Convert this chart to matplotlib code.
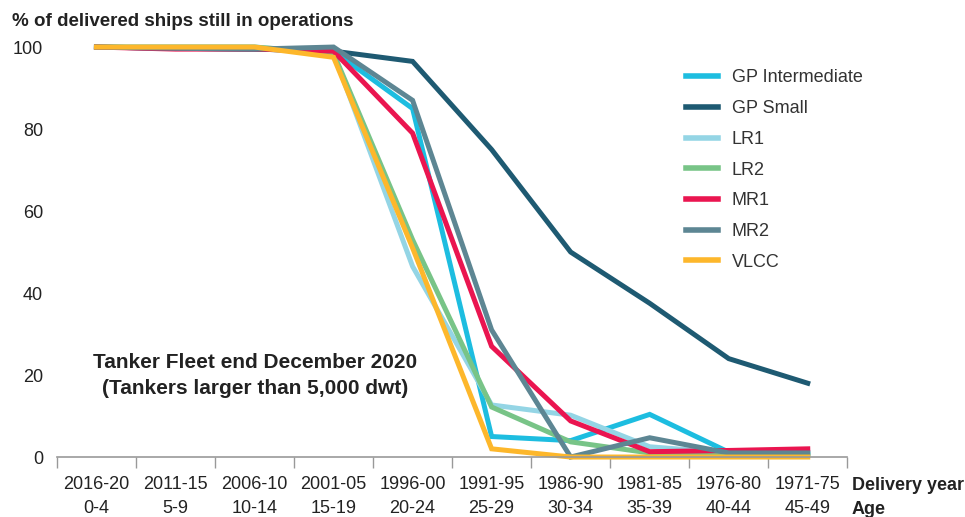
import matplotlib
matplotlib.use("Agg")
from matplotlib import pyplot as plt
import numpy as np

plt.rcParams['font.family'] = ['Liberation Sans', 'DejaVu Sans']

# periodos de entrega y edades
years = ['2016-20', '2011-15', '2006-10', '2001-05', '1996-00',
         '1991-95', '1986-90', '1981-85', '1976-80', '1971-75']
ages = ['0-4', '5-9', '10-14', '15-19', '20-24',
        '25-29', '30-34', '35-39', '40-44', '45-49']

# % de buques entregados aun en operacion
gp_intermediate = [100, 99.7, 99.5, 99, 85, 5, 4, 10.4, 1.2, 0.8]
gp_small = [100, 99.7, 99.5, 99, 96.5, 75, 50, 37.5, 24, 18]
lr1 = [100, 100, 100, 98.5, 46.5, 12.7, 10.2, 2.5, 1, 1]
lr2 = [100, 100, 100, 98.5, 53, 12.2, 3.7, 1, 0.5, 0.5]
mr1 = [100, 99.5, 99.5, 99, 79, 27, 8.8, 1.3, 1.6, 2]
mr2 = [100, 99.7, 99.5, 100, 87, 31, 0, 4.7, 1, 1]
vlcc = [100, 100, 100, 97.5, 51, 2, 0, 0, 0, 0]

series = [
    ('GP Intermediate', gp_intermediate, '#1dbde0'),
    ('GP Small', gp_small, '#1e5a72'),
    ('LR1', lr1, '#94d5e5'),
    ('LR2', lr2, '#78c487'),
    ('MR1', mr1, '#ea1550'),
    ('MR2', mr2, '#5d8693'),
    ('VLCC', vlcc, '#fdb72b'),
]

fig = plt.figure(figsize=(9.65, 5.17), dpi=100)
ax = fig.add_axes([0.059, 0.116, 0.819, 0.793])

x = np.arange(len(years))
for name, vals, col in series:
    ax.plot(x, vals, color=col, lw=3.6, label=name, clip_on=False,
            solid_joinstyle='miter')

ax.set_xlim(-0.5, len(years) - 0.5)
ax.set_ylim(0, 100)
ax.set_yticks([0, 20, 40, 60, 80, 100])
ax.tick_params(axis='y', length=0, labelsize=13, colors='#222222', pad=10)

ax.set_xticks(np.arange(-0.5, len(years)), minor=False)
ax.set_xticklabels([])
ax.set_xticks(x, minor=True)
ax.set_xticklabels([f"{y}\n{a}" for y, a in zip(years, ages)], minor=True,
                   linespacing=1.52)
ax.tick_params(axis='x', which='major', direction='out', length=8,
               color='#999999', width=1)
ax.tick_params(axis='x', which='minor', length=0, labelsize=13,
               colors='#222222', pad=14)

for s in ['top', 'right', 'left']:
    ax.spines[s].set_visible(False)
ax.spines['bottom'].set_color('#999999')
ax.spines['bottom'].set_linewidth(1.2)

ax.text(1.006, -0.049, 'Delivery year\nAge', transform=ax.transAxes,
        ha='left', va='top', fontsize=13, fontweight='bold',
        color='#222222', linespacing=1.52)

fig.text(0.012, 0.958, '% of delivered ships still in operations',
         fontsize=13.5, fontweight='bold', color='#222222', va='center')

ax.text(2.01, 19.8, 'Tanker Fleet end December 2020\n(Tankers larger than 5,000 dwt)',
        ha='center', va='center', fontsize=15, fontweight='bold',
        color='#222222', linespacing=1.45)

leg = ax.legend(loc='upper left', bbox_to_anchor=(0.775, 0.985), frameon=False,
                fontsize=13, handlelength=1.8, handletextpad=0.75,
                labelspacing=0.76, labelcolor='#333333')
for h in leg.get_lines():
    h.set_linewidth(4)

plt.savefig('out.png', dpi=100)
